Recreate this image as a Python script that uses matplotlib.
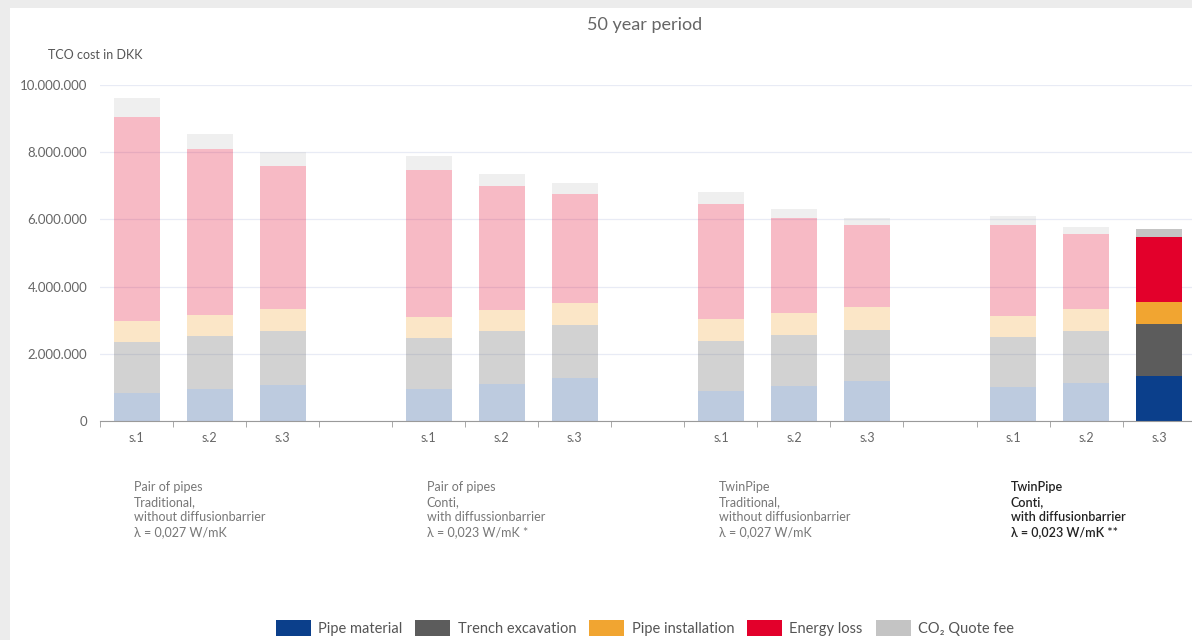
import matplotlib.pyplot as plt
from matplotlib.patches import Rectangle, FancyBboxPatch
from matplotlib.ticker import FuncFormatter, FixedLocator
from matplotlib.colors import to_rgba

plt.rcParams['font.family'] = ['Lato', 'DejaVu Sans']

# data (DKK), one value per bar, 4 groups x 3 scenarios
bar_labels = ['s.1', 's.2', 's.3', '', 's.1', 's.2', 's.3', '',
              's.1', 's.2', 's.3', '', 's.1', 's.2', 's.3']
pipe_material = [830000, 950000, 1070000, 0, 950000, 1100000, 1280000, 0,
                 900000, 1040000, 1190000, 0, 1010000, 1130000, 1340000]
trench = [1520000, 1580000, 1610000, 0, 1520000, 1580000, 1580000, 0,
          1480000, 1520000, 1510000, 0, 1490000, 1550000, 1550000]
installation = [630000, 620000, 650000, 0, 630000, 620000, 640000, 0,
                650000, 650000, 690000, 0, 620000, 650000, 650000]
energy = [6070000, 4950000, 4260000, 0, 4370000, 3700000, 3260000, 0,
          3430000, 2830000, 2440000, 0, 2710000, 2230000, 1940000]
co2 = [550000, 440000, 410000, 0, 410000, 350000, 320000, 0,
       360000, 260000, 210000, 0, 270000, 210000, 230000]

series = [('Pipe material', pipe_material, '#0b3f8b'),
          ('Trench excavation', trench, '#5c5c5c'),
          ('Pipe installation', installation, '#f1a531'),
          ('Energy loss', energy, '#e3002b'),
          ('CO\u2082 Quote fee', co2, '#c4c4c4')]

group_texts = ['Pair of pipes\nTraditional,\nwithout diffusionbarrier\n\u03bb = 0,027 W/mK',
               'Pair of pipes\nConti,\nwith diffussionbarrier\n\u03bb = 0,023 W/mK *',
               'TwinPipe\nTraditional,\nwithout diffusionbarrier\n\u03bb = 0,027 W/mK',
               'TwinPipe\nConti,\nwith diffusionbarrier\n\u03bb = 0,023 W/mK **']
group_starts = [0, 4, 8, 12]
highlight = 14

fig = plt.figure(figsize=(11.92, 6.4), dpi=100)
fig.patch.set_facecolor('#ececec')
fig.patches.append(Rectangle((10/1192, 0), 1, 1 - 8/640, transform=fig.transFigure,
                             facecolor='white', edgecolor='none', zorder=-10))

ax = fig.add_axes([100/1192, 219/640, 1 - 100/1192, 336/640])
ax.set_facecolor('none')

x = list(range(len(bar_labels)))
bottom = [0] * len(x)
for name, vals, col in series:
    faded = to_rgba(col, 0.27)
    cols = [col if i == highlight else faded for i in x]
    ax.bar(x, vals, 0.63, bottom=bottom, color=cols, linewidth=0, zorder=2)
    bottom = [b + v for b, v in zip(bottom, vals)]

ax.set_xlim(-0.5, 14.45)
ax.set_ylim(0, 10000000)
ax.set_yticks([0, 2000000, 4000000, 6000000, 8000000, 10000000])
ax.yaxis.set_major_formatter(FuncFormatter(lambda v, p: f'{int(v):,}'.replace(',', '.')))
ax.grid(axis='y', color='#e8ebf5', linewidth=0.9, zorder=0)
for s in ['top', 'right', 'left']:
    ax.spines[s].set_visible(False)
ax.spines['bottom'].set_color('#9a9a9a')
ax.tick_params(axis='y', length=0, labelsize=9.5, labelcolor='#666666', pad=9)
ax.set_xticks(x)
ax.set_xticklabels(bar_labels)
ax.tick_params(axis='x', which='major', length=0, labelsize=9, labelcolor='#666666', pad=8)
ax.xaxis.set_minor_locator(FixedLocator([i - 0.5 for i in range(16)]))
ax.tick_params(axis='x', which='minor', length=4, color='#9a9a9a')

for k, (txt, st) in enumerate(zip(group_texts, group_starts)):
    last = k == len(group_texts) - 1
    ax.text(st - 0.03, -1800000, txt, ha='left', va='top', fontsize=9,
            color='#222222' if last else '#777777',
            fontweight='semibold' if last else 'normal', linespacing=1.3)

fig.text(645/1192, 1 - 25/640, '50 year period', ha='center', va='center',
         fontsize=13, color='#666666')
fig.text(48/1192, 1 - 55/640, 'TCO cost in DKK', ha='left', va='center',
         fontsize=9, color='#555555')

handles = [FancyBboxPatch((0, 0), 1, 1, boxstyle='round,pad=0,rounding_size=0.2',
                          facecolor=c, edgecolor='none') for _, _, c in series]
fig.legend(handles, [n for n, _, _ in series], loc='center', ncol=5,
           bbox_to_anchor=(645/1192, 1 - 628/640), frameon=False, fontsize=10.5,
           labelcolor='#555555', handlelength=2.4, handleheight=1.4,
           columnspacing=0.9, handletextpad=0.5)

fig.savefig('out.png', dpi=100)
